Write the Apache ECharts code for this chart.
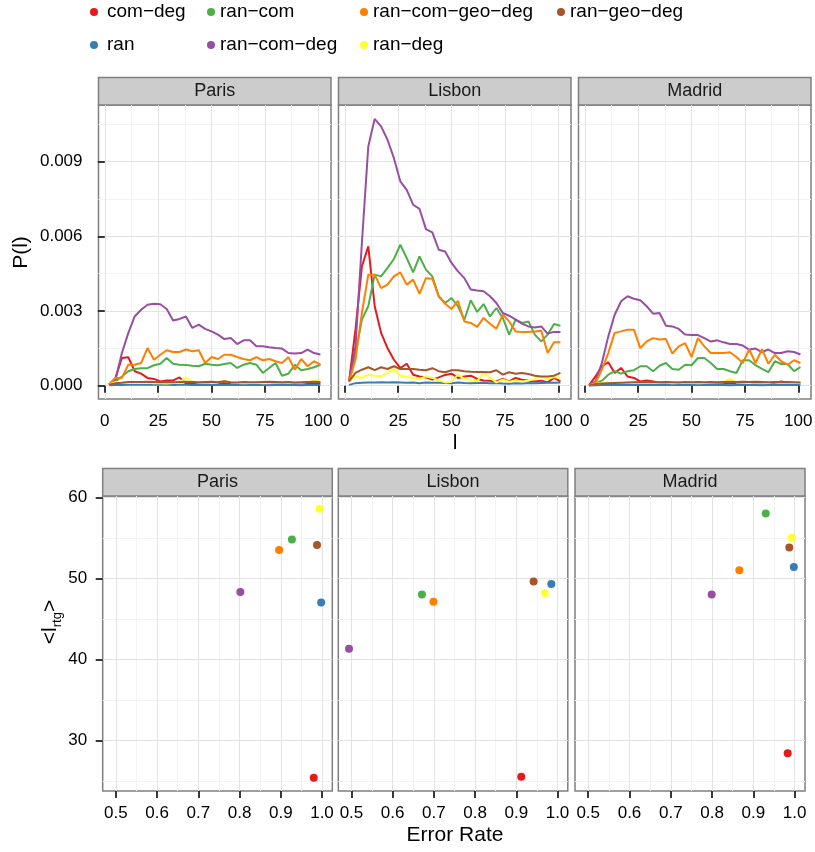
<!DOCTYPE html>
<html><head><meta charset="utf-8">
<script src="https://cdn.jsdelivr.net/npm/echarts@6/dist/echarts.min.js"></script>
<style>html,body{margin:0;padding:0;background:#fff}#c{width:815px;height:852px}</style>
</head><body><div id="c"></div>
<script>
// ---------- data ----------
const seriesNames = ['com−deg','ran','ran−com','ran−com−deg','ran−com−geo−deg','ran−deg','ran−geo−deg'];
const seriesColors = ['#E41A1C','#377EB8','#4DAF4A','#984EA3','#FF7F00','#FFFF33','#A65628'];
const cities = ['Paris','Lisbon','Madrid'];

const pathLength = [2,5,8,11,14,17,20,23,26,29,32,35,38,41,44,47,50,53,56,59,62,65,68,71,74,77,80,83,86,89,92,95,98,101];

// P(l) — Paris
const parisComDeg = [0.00004,0.00031,0.00111,0.00114,0.00058,0.00048,0.00031,0.00027,0.00017,0.00021,0.00021,0.00033,0.00008,0.00011,0.00011,0.00010,0.00009,0.00012,0.00010,0.00008,0.00010,0.00011,0.00009,0.00010,0.00008,0.00010,0.00009,0.00011,0.00010,0.00008,0.00010,0.00009,0.00011,0.00010];
const parisRan = [0.00002,0.00003,0.00003,0.00004,0.00004,0.00004,0.00004,0.00004,0.00004,0.00004,0.00003,0.00004,0.00004,0.00003,0.00004,0.00003,0.00003,0.00004,0.00003,0.00003,0.00004,0.00003,0.00003,0.00003,0.00003,0.00002,0.00003,0.00003,0.00003,0.00003,0.00002,0.00003,0.00003,0.00003];
const parisRanCom = [0.00004,0.00017,0.00037,0.00058,0.00067,0.00070,0.00070,0.00082,0.00088,0.00111,0.00088,0.00084,0.00083,0.00080,0.00078,0.00088,0.00084,0.00082,0.00087,0.00091,0.00071,0.00084,0.00091,0.00084,0.00051,0.00071,0.00091,0.00040,0.00048,0.00084,0.00062,0.00067,0.00074,0.00084];
const parisRanComDeg = [0.00004,0.00024,0.00131,0.00211,0.00278,0.00305,0.00325,0.00329,0.00327,0.00308,0.00262,0.00268,0.00278,0.00232,0.00245,0.00228,0.00218,0.00205,0.00187,0.00191,0.00167,0.00182,0.00182,0.00158,0.00158,0.00154,0.00151,0.00149,0.00131,0.00129,0.00131,0.00145,0.00131,0.00125];
const parisRanComGeoDeg = [0.00004,0.00031,0.00031,0.00084,0.00084,0.00091,0.00151,0.00104,0.00124,0.00142,0.00135,0.00135,0.00145,0.00138,0.00142,0.00091,0.00115,0.00107,0.00124,0.00124,0.00115,0.00107,0.00102,0.00115,0.00102,0.00107,0.00098,0.00091,0.00114,0.00064,0.00107,0.00078,0.00098,0.00084];
const parisRanDeg = [0.00004,0.00015,0.00013,0.00012,0.00013,0.00011,0.00012,0.00010,0.00010,0.00009,0.00011,0.00013,0.00031,0.00017,0.00012,0.00013,0.00011,0.00012,0.00020,0.00013,0.00011,0.00010,0.00011,0.00012,0.00010,0.00011,0.00013,0.00012,0.00011,0.00013,0.00012,0.00015,0.00018,0.00027];
const parisRanGeoDeg = [0.00004,0.00010,0.00012,0.00015,0.00015,0.00015,0.00016,0.00015,0.00014,0.00015,0.00014,0.00015,0.00016,0.00015,0.00014,0.00015,0.00016,0.00014,0.00018,0.00014,0.00013,0.00015,0.00014,0.00014,0.00015,0.00016,0.00015,0.00014,0.00015,0.00013,0.00014,0.00015,0.00016,0.00015];

// P(l) — Lisbon
const lisbonComDeg = [0.00017,0.00225,0.00479,0.00560,0.00319,0.00212,0.00151,0.00104,0.00071,0.00088,0.00044,0.00037,0.00033,0.00024,0.00033,0.00043,0.00048,0.00031,0.00037,0.00040,0.00027,0.00021,0.00020,0.00017,0.00027,0.00017,0.00031,0.00024,0.00020,0.00017,0.00020,0.00013,0.00031,0.00017];
const lisbonRan = [0.00003,0.00010,0.00012,0.00013,0.00013,0.00014,0.00013,0.00014,0.00013,0.00012,0.00013,0.00010,0.00013,0.00012,0.00012,0.00011,0.00010,0.00013,0.00011,0.00010,0.00011,0.00012,0.00010,0.00011,0.00009,0.00008,0.00010,0.00009,0.00011,0.00010,0.00011,0.00012,0.00012,0.00013];
const lisbonRanCom = [0.00017,0.00131,0.00265,0.00319,0.00446,0.00439,0.00473,0.00509,0.00566,0.00513,0.00455,0.00519,0.00466,0.00439,0.00359,0.00332,0.00352,0.00319,0.00265,0.00343,0.00296,0.00328,0.00278,0.00312,0.00272,0.00205,0.00265,0.00252,0.00258,0.00205,0.00178,0.00205,0.00248,0.00241];
const lisbonRanComDeg = [0.00017,0.00158,0.00573,0.00961,0.01072,0.01042,0.00988,0.00914,0.00821,0.00787,0.00727,0.00710,0.00629,0.00616,0.00546,0.00539,0.00493,0.00459,0.00432,0.00386,0.00382,0.00379,0.00359,0.00332,0.00292,0.00281,0.00265,0.00249,0.00238,0.00234,0.00238,0.00209,0.00216,0.00216];
const lisbonRanComGeoDeg = [0.00017,0.00104,0.00292,0.00446,0.00446,0.00392,0.00406,0.00439,0.00455,0.00406,0.00426,0.00369,0.00432,0.00430,0.00359,0.00329,0.00308,0.00341,0.00258,0.00252,0.00236,0.00272,0.00249,0.00229,0.00285,0.00258,0.00218,0.00216,0.00216,0.00218,0.00221,0.00131,0.00174,0.00174];
const lisbonRanDeg = [0.00017,0.00037,0.00031,0.00044,0.00040,0.00037,0.00051,0.00067,0.00040,0.00035,0.00031,0.00027,0.00037,0.00031,0.00021,0.00013,0.00016,0.00044,0.00027,0.00024,0.00017,0.00054,0.00031,0.00013,0.00024,0.00016,0.00021,0.00017,0.00020,0.00027,0.00037,0.00027,0.00035,0.00031];
const lisbonRanGeoDeg = [0.00017,0.00051,0.00064,0.00074,0.00062,0.00074,0.00067,0.00078,0.00067,0.00067,0.00067,0.00064,0.00062,0.00070,0.00058,0.00054,0.00062,0.00062,0.00058,0.00056,0.00055,0.00055,0.00054,0.00062,0.00044,0.00054,0.00048,0.00051,0.00047,0.00040,0.00037,0.00037,0.00040,0.00051];

// P(l) — Madrid
const madridComDeg = [0.00001,0.00037,0.00078,0.00094,0.00051,0.00071,0.00037,0.00031,0.00017,0.00021,0.00017,0.00013,0.00011,0.00010,0.00012,0.00011,0.00010,0.00009,0.00011,0.00010,0.00012,0.00010,0.00009,0.00011,0.00010,0.00010,0.00011,0.00009,0.00010,0.00011,0.00017,0.00012,0.00010,0.00011];
const madridRan = [0.00001,0.00002,0.00003,0.00003,0.00003,0.00003,0.00003,0.00003,0.00003,0.00003,0.00003,0.00003,0.00003,0.00003,0.00003,0.00003,0.00003,0.00003,0.00003,0.00003,0.00003,0.00003,0.00002,0.00003,0.00003,0.00003,0.00003,0.00002,0.00003,0.00003,0.00003,0.00003,0.00003,0.00003];
const madridRanCom = [0.00001,0.00011,0.00020,0.00044,0.00058,0.00048,0.00058,0.00062,0.00078,0.00078,0.00058,0.00080,0.00091,0.00067,0.00064,0.00084,0.00082,0.00111,0.00111,0.00091,0.00067,0.00067,0.00058,0.00051,0.00102,0.00102,0.00082,0.00067,0.00054,0.00098,0.00087,0.00087,0.00058,0.00074];
const madridRanComDeg = [0.00001,0.00017,0.00091,0.00198,0.00285,0.00339,0.00359,0.00349,0.00343,0.00319,0.00289,0.00292,0.00241,0.00238,0.00228,0.00205,0.00203,0.00203,0.00191,0.00177,0.00182,0.00174,0.00167,0.00167,0.00161,0.00145,0.00149,0.00135,0.00145,0.00131,0.00131,0.00138,0.00135,0.00125];
const madridRanComGeoDeg = [0.00001,0.00011,0.00064,0.00131,0.00212,0.00218,0.00225,0.00225,0.00151,0.00178,0.00191,0.00185,0.00187,0.00129,0.00158,0.00171,0.00115,0.00191,0.00158,0.00131,0.00131,0.00131,0.00134,0.00115,0.00091,0.00145,0.00091,0.00147,0.00088,0.00124,0.00098,0.00084,0.00102,0.00091];
const madridRanDeg = [0.00001,0.00008,0.00012,0.00013,0.00012,0.00011,0.00013,0.00012,0.00011,0.00012,0.00012,0.00013,0.00012,0.00010,0.00011,0.00012,0.00011,0.00010,0.00011,0.00012,0.00013,0.00014,0.00027,0.00013,0.00012,0.00011,0.00013,0.00012,0.00011,0.00014,0.00012,0.00011,0.00012,0.00011];
const madridRanGeoDeg = [0.00001,0.00007,0.00009,0.00010,0.00011,0.00012,0.00013,0.00014,0.00015,0.00014,0.00015,0.00014,0.00015,0.00014,0.00013,0.00015,0.00014,0.00015,0.00014,0.00015,0.00014,0.00015,0.00016,0.00015,0.00016,0.00015,0.00016,0.00015,0.00014,0.00015,0.00014,0.00015,0.00014,0.00013];

// Error rate and <l_rtg> (order follows seriesNames)
const parisErrorRate  = [0.980, 0.998, 0.927, 0.802, 0.896, 0.994, 0.988];
const parisMeanLength = [25.4, 47.0, 54.8, 48.3, 53.5, 58.6, 54.1];
const lisbonErrorRate  = [0.912, 0.985, 0.671, 0.494, 0.699, 0.969, 0.942];
const lisbonMeanLength = [25.5, 49.3, 48.0, 41.3, 47.1, 48.2, 49.6];
const madridErrorRate  = [0.983, 0.998, 0.930, 0.799, 0.866, 0.993, 0.987];
const madridMeanLength = [28.4, 51.4, 58.0, 48.0, 51.0, 55.0, 53.8];

// tick labels
const topXTicks = [0, 25, 50, 75, 100];
const topXMinor = [12.5, 37.5, 62.5, 87.5];
const topYTicks = [0, 0.003, 0.006, 0.009];
const topYMinor = [0.0015, 0.0045, 0.0075, 0.0105];
const botXTicks = [0.5, 0.6, 0.7, 0.8, 0.9, 1.0];
const botXMinor = [0.55, 0.65, 0.75, 0.85, 0.95];
const botYTicks = [30, 40, 50, 60];
const botYMinor = [25, 35, 45, 55];

const lineData = {
  Paris:  [parisComDeg, parisRan, parisRanCom, parisRanComDeg, parisRanComGeoDeg, parisRanDeg, parisRanGeoDeg],
  Lisbon: [lisbonComDeg, lisbonRan, lisbonRanCom, lisbonRanComDeg, lisbonRanComGeoDeg, lisbonRanDeg, lisbonRanGeoDeg],
  Madrid: [madridComDeg, madridRan, madridRanCom, madridRanComDeg, madridRanComGeoDeg, madridRanDeg, madridRanGeoDeg]
};
const scatterData = {
  Paris:  [parisErrorRate, parisMeanLength],
  Lisbon: [lisbonErrorRate, lisbonMeanLength],
  Madrid: [madridErrorRate, madridMeanLength]
};

// ---------- layout ----------
const FONT = '"Liberation Sans", Arial, Helvetica, sans-serif';
const topPanels = [
  {left: 98.5, top: 105, width: 232.5, height: 294},
  {left: 338.5, top: 105, width: 232.5, height: 294},
  {left: 578.5, top: 105, width: 232.5, height: 294}
];
const botPanels = [
  {left: 102.7, top: 496, width: 229.6, height: 295},
  {left: 338.3, top: 496, width: 229.5, height: 295},
  {left: 575, top: 496, width: 230, height: 295}
];
const STRIP_H = 27.5;
const topX = [-2.95, 105.95], topY = [-0.000537, 0.011277];
const botX = [0.468, 1.025], botY = [23.75, 60.16];

const grids = [], xAxes = [], yAxes = [], series = [], graphics = [];

function majorAxis(dim, gi, ext, ticks, showTick, showLabel, fmt, margin) {
  return {
    type: 'value', gridIndex: gi, min: ext[0], max: ext[1],
    position: dim === 'x' ? 'bottom' : 'left',
    axisLine: {show: false},
    axisTick: {show: showTick, customValues: ticks, length: 7, lineStyle: {color: '#222', width: 1.8}},
    axisLabel: {show: showLabel, customValues: ticks, formatter: fmt, fontSize: 17, color: '#000', fontFamily: FONT, margin: margin},
    splitLine: {show: true, customValues: ticks, lineStyle: {color: '#e3e3e3', width: 1}},
    minorTick: {show: false}, minorSplitLine: {show: false}, z: 1
  };
}
function minorAxis(dim, gi, ext, ticks) {
  return {
    type: 'value', gridIndex: gi, min: ext[0], max: ext[1],
    position: dim === 'x' ? 'bottom' : 'left',
    axisLine: {show: false},
    axisTick: {show: false, customValues: ticks},
    axisLabel: {show: false, customValues: ticks},
    splitLine: {show: true, customValues: ticks, lineStyle: {color: '#f3f3f3', width: 1}},
    minorTick: {show: false}, minorSplitLine: {show: false}, z: 0
  };
}
function addPanel(p, row, col) {
  const gi = grids.length;
  grids.push({left: p.left, top: p.top, width: p.width, height: p.height, show: true,
    backgroundColor: '#fff', borderColor: '#7f7f7f', borderWidth: 1.5,
    containLabel: false, outerBoundsMode: 'none'});
  if (row === 0) {
    xAxes.push(majorAxis('x', gi, topX, topXTicks, true, true, v => String(v), 14));
    xAxes.push(minorAxis('x', gi, topX, topXMinor));
    yAxes.push(majorAxis('y', gi, topY, topYTicks, col === 0, col === 0, v => v.toFixed(3), 16));
    yAxes.push(minorAxis('y', gi, topY, topYMinor));
  } else {
    xAxes.push(majorAxis('x', gi, botX, botXTicks, true, true, v => v.toFixed(1), 14));
    xAxes.push(minorAxis('x', gi, botX, botXMinor));
    yAxes.push(majorAxis('y', gi, botY, botYTicks, col === 0, col === 0, v => String(v), 15.5));
    yAxes.push(minorAxis('y', gi, botY, botYMinor));
  }
  // facet strip
  graphics.push({type: 'rect', shape: {x: p.left, y: p.top - STRIP_H, width: p.width, height: STRIP_H},
    style: {fill: '#cccccc', stroke: '#7f7f7f', lineWidth: 1.5}, silent: true});
  graphics.push({type: 'text', x: p.left + p.width / 2, y: p.top - STRIP_H / 2,
    style: {text: cities[col], fontSize: 18, fontFamily: FONT, fill: '#1a1a1a', align: 'center', verticalAlign: 'middle',
      textAlign: 'center', textVerticalAlign: 'middle'}, silent: true});
  return 2 * gi;
}

cities.forEach((city, c) => {
  const ai = addPanel(topPanels[c], 0, c);
  seriesNames.forEach((name, s) => {
    series.push({
      type: 'line', name: name, xAxisIndex: ai, yAxisIndex: ai,
      data: pathLength.map((l, i) => [l, lineData[city][s][i]]),
      showSymbol: false, symbol: 'none', color: seriesColors[s],
      itemStyle: {color: seriesColors[s]},
      lineStyle: {color: seriesColors[s], width: 2}, z: 3
    });
  });
});
cities.forEach((city, c) => {
  const ai = addPanel(botPanels[c], 1, c);
  const [er, ml] = scatterData[city];
  seriesNames.forEach((name, s) => {
    series.push({
      type: 'scatter', name: name, xAxisIndex: ai, yAxisIndex: ai,
      data: [[er[s], ml[s]]], symbol: 'circle', symbolSize: 8,
      color: seriesColors[s], itemStyle: {color: seriesColors[s], opacity: 1}, z: 3
    });
  });
});

// axis titles
graphics.push({type: 'text', x: 21.5, y: 252.5, rotation: Math.PI / 2,
  style: {text: 'P(l)', fontSize: 21, fontFamily: FONT, fill: '#000', align: 'center', verticalAlign: 'middle', textAlign: 'center', textVerticalAlign: 'middle'}, silent: true});
graphics.push({type: 'text', x: 455, y: 443,
  style: {text: 'l', fontSize: 21, fontFamily: FONT, fill: '#000', align: 'center', verticalAlign: 'middle', textAlign: 'center', textVerticalAlign: 'middle'}, silent: true});
graphics.push({type: 'text', x: 455, y: 835,
  style: {text: 'Error Rate', fontSize: 21, fontFamily: FONT, fill: '#000', align: 'center', verticalAlign: 'middle', textAlign: 'center', textVerticalAlign: 'middle'}, silent: true});
graphics.push({type: 'text', x: 50, y: 622, rotation: Math.PI / 2,
  style: {text: '<l{sub|rtg}>', fontSize: 21, fontFamily: FONT, fill: '#000', align: 'center', verticalAlign: 'middle', textAlign: 'center', textVerticalAlign: 'middle',
    rich: {sub: {fontSize: 13, fontFamily: FONT, fill: '#000', padding: [14, 0, 0, 0]}}}, silent: true});

// legend: 4 columns x 2 rows
const legendCols = [
  {names: [seriesNames[0], seriesNames[1]], left: 90, iw: 16},
  {names: [seriesNames[2], seriesNames[3]], left: 207, iw: 8},
  {names: [seriesNames[4], seriesNames[5]], left: 360, iw: 8},
  {names: [seriesNames[6]], left: 557, iw: 8}
];
const legends = legendCols.map(c => ({
  orient: 'vertical', left: c.left, top: 2, icon: 'circle', itemWidth: c.iw, itemHeight: 8, itemGap: 13,
  padding: 0, selectedMode: false,
  textStyle: {fontSize: 19, color: '#000', fontFamily: FONT, lineHeight: 20},
  data: c.names
}));

const chart = echarts.init(document.getElementById('c'), null, {renderer: 'canvas'});
chart.setOption({
  animation: false,
  backgroundColor: '#fff',
  textStyle: {fontFamily: FONT},
  legend: legends,
  grid: grids,
  xAxis: xAxes,
  yAxis: yAxes,
  series: series,
  graphic: {elements: graphics}
});
</script>
</body></html>
